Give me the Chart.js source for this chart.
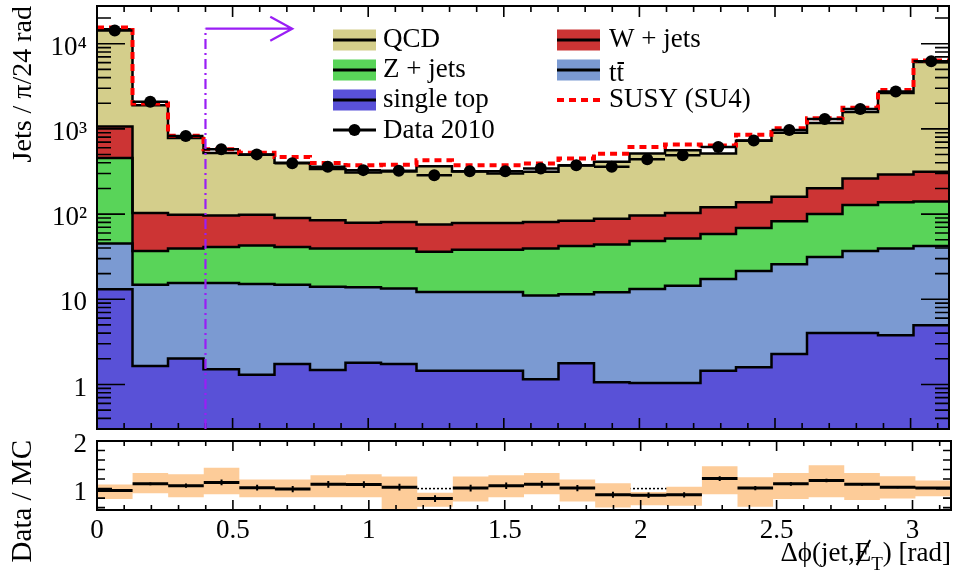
<!DOCTYPE html>
<html lang="en">
<head>
<meta charset="UTF-8">
<title>Jets vs delta phi (jet, MET)</title>
<script src="https://cdn.jsdelivr.net/npm/chart.js"></script>
<style>
  html, body { margin: 0; padding: 0; background: #fff; }
  canvas { position: absolute; left: 0; }
</style>
</head>
<body>
<canvas id="main" width="955" height="436" style="top:0"></canvas>
<canvas id="ratio" width="955" height="142" style="top:432px"></canvas>
<script>
// 24 bins of pi/24 in delta phi
const nBins = 24;
const binEdges = Array.from({length: nBins + 1}, (_, i) => i * Math.PI / nBins);
const binCenters = binEdges.slice(0, nBins).map((e, i) => (e + binEdges[i + 1]) / 2);

// MC components (jets per bin), bottom of the stack first
const singleTop = [13.1, 1.65, 2.02, 1.51, 1.30, 1.74, 1.48, 1.80, 1.74, 1.45, 1.45, 1.45,
                   1.15, 1.77, 1.06, 1.04, 1.04, 1.45, 1.59, 2.28, 4.03, 4.03, 3.79, 4.94];
const ttbar     = [32.1, 13.2, 13.5, 14.0, 13.8, 13.1, 12.5, 12.0, 11.6, 10.7, 10.7, 10.7,
                   9.9, 9.7, 11.0, 12.2, 13.4, 15.8, 19.9, 23.4, 27.4, 32.8, 35.7, 37.2];
const zJets     = [411, 22.0, 24.0, 25.5, 27.7, 26.2, 25.5, 25.7, 26.2, 24.0, 26.0, 26.0,
                   28.5, 30.6, 31.9, 34.9, 37.2, 41.3, 47.2, 56.5, 68.6, 91.2, 98.5, 97.9];
const wJets     = [608, 66.2, 58.5, 55.5, 55.2, 48.8, 44.9, 39.7, 41.2, 39.1, 40.5, 40.5,
                   41.2, 41.5, 44.2, 48.4, 51.4, 61.5, 69.3, 77.8, 101, 134, 154, 173];
const qcd       = [13736, 1797, 681, 424, 399, 310, 254, 229, 235, 289, 237, 221,
                   233, 288, 322, 416, 457, 395, 590, 740, 969, 1318, 2338, 5787];
// SM + SU4 signal (red dotted line)
const mcPlusSU4 = [15480, 1990, 829, 575, 526, 469, 399, 375, 380, 428, 375, 375,
                   392, 448, 512, 612, 657, 640, 851, 1019, 1335, 1765, 2866, 6340];
const data2010  = [14280, 2080, 823, 575, 502, 395, 359, 328, 322, 286, 319, 318,
                   343, 375, 359, 440, 489, 612, 731, 973, 1307, 1709, 2742, 6235];

// ratio panel
const ratio     = [0.96, 1.10, 1.06, 1.13, 1.02, 0.99, 1.09, 1.085, 1.03, 0.79, 1.01, 1.06,
                   1.09, 1.01, 0.87, 0.86, 0.87, 1.21, 1.01, 1.10, 1.17, 1.09, 1.03, 1.01];
const ratioErr  = [0.012, 0.03, 0.045, 0.06, 0.06, 0.065, 0.07, 0.07, 0.07, 0.07, 0.07, 0.07,
                   0.07, 0.065, 0.065, 0.06, 0.055, 0.05, 0.045, 0.04, 0.035, 0.03, 0.025, 0.015];
const bandLow   = [0.78, 0.90, 0.82, 0.88, 0.82, 0.82, 0.82, 0.82, 0.50, 0.62, 0.73, 0.82,
                   0.88, 0.73, 0.60, 0.65, 0.64, 0.88, 0.62, 0.78, 0.82, 0.76, 0.79, 0.84];
const bandHigh  = [1.085, 1.33, 1.30, 1.44, 1.19, 1.19, 1.28, 1.30, 1.255, 0.915, 1.255, 1.28,
                   1.33, 1.19, 1.11, 0.93, 1.04, 1.47, 1.24, 1.33, 1.49, 1.33, 1.26, 1.17];

// axis ticks
const yTickValues = [1, 10, 100, 1000, 10000];
const yTickLabels = ['1', '10', '10\u00B2', '10\u00B3', '10\u2074'];
const xTickValues = [0, 0.5, 1, 1.5, 2, 2.5, 3];
const ratioTickValues = [1, 2];

// cut line at 0.4 with arrow
const cutValue = 0.4, arrowEnd = 0.72, arrowLevel = 15000;

const colors = ['#5951D7', '#7B9AD2', '#59D459', '#CC3434', '#D4CE8B'];
const SERIF = '"Liberation Serif", "DejaVu Serif", serif';
Chart.defaults.font.family = SERIF;
Chart.defaults.color = '#000';

function steps(vals) {
  const pts = vals.map((v, i) => ({x: binEdges[i], y: v}));
  pts.push({x: binEdges[nBins], y: vals[nBins - 1]});
  return pts;
}

// cumulative stack
const layers = [singleTop, ttbar, zJets, wJets, qcd];
const cum = [];
let run = new Array(nBins).fill(0);
layers.forEach(l => { run = run.map((s, i) => s + l[i]); cum.push(run); });

// inward ticks and frame, ROOT style
function frameTicks(opts) {
  return {
    id: 'frameTicks',
    afterDatasetsDraw(chart) {
      const {ctx, chartArea: a, scales: {x, y}} = chart;
      ctx.save();
      ctx.strokeStyle = '#000';
      ctx.lineWidth = 1.6;
      ctx.beginPath();
      for (let i = 0; i <= 31; i++) {
        const v = i / 10;
        const len = (i % 5 === 0) ? opts.xMaj : opts.xMin;
        const px = x.getPixelForValue(v);
        ctx.moveTo(px, a.bottom); ctx.lineTo(px, a.bottom - len);
        ctx.moveTo(px, a.top); ctx.lineTo(px, a.top + len);
      }
      opts.yTicks.forEach(([v, major]) => {
        const py = y.getPixelForValue(v);
        if (py < a.top - 0.5 || py > a.bottom + 0.5) return;
        const len = major ? opts.yMaj : opts.yMin;
        ctx.moveTo(a.left, py); ctx.lineTo(a.left + len, py);
        ctx.moveTo(a.right, py); ctx.lineTo(a.right - len, py);
      });
      ctx.stroke();
      ctx.lineWidth = 2;
      ctx.strokeRect(a.left, a.top, a.right - a.left, a.bottom - a.top);
      ctx.restore();
    }
  };
}

const logTicks = [];
[0.1, 1, 10, 100, 1000, 10000].forEach(d => {
  for (let m = 1; m <= 9; m++) logTicks.push([m * d, m === 1]);
});
const ratioTicks = [];
for (let i = 3; i <= 10; i++) ratioTicks.push([i / 5, i === 5 || i === 10]);

// data error bars (bin width) drawn through the library scales
const dataBars = {
  id: 'dataBars',
  afterDatasetsDraw(chart) {
    const {ctx, scales: {x, y}} = chart;
    ctx.save();
    ctx.strokeStyle = '#000';
    ctx.lineWidth = 2.5;
    ctx.beginPath();
    data2010.forEach((v, i) => {
      const py = y.getPixelForValue(v);
      ctx.moveTo(x.getPixelForValue(binEdges[i]), py);
      ctx.lineTo(x.getPixelForValue(binEdges[i + 1]), py);
    });
    ctx.stroke();

    // cut line and arrow
    const px = x.getPixelForValue(cutValue);
    const pe = x.getPixelForValue(arrowEnd);
    const pl = y.getPixelForValue(arrowLevel);
    ctx.strokeStyle = '#9A1EF5';
    ctx.lineWidth = 2.2;
    ctx.setLineDash([10, 4, 2, 4]);
    ctx.beginPath();
    ctx.moveTo(px, chart.chartArea.bottom);
    ctx.lineTo(px, pl);
    ctx.stroke();
    ctx.setLineDash([]);
    ctx.beginPath();
    ctx.moveTo(px, pl); ctx.lineTo(pe, pl);
    ctx.moveTo(pe - 22, pl - 12); ctx.lineTo(pe, pl); ctx.lineTo(pe - 22, pl + 12);
    ctx.stroke();
    ctx.restore();
  }
};

const legendTitle = {
  id: 'legendTitle',
  afterDraw(chart) {
    const {ctx} = chart;
    ctx.save();
    ctx.font = '27px ' + SERIF;
    ctx.fillStyle = '#000';
    ctx.textAlign = 'left';
    ctx.textBaseline = 'alphabetic';
    const box = (x0, yc, col) => {
      ctx.fillStyle = col;
      ctx.fillRect(x0, yc - 10.5, 43, 21);
      ctx.strokeStyle = '#000';
      ctx.lineWidth = 3;
      ctx.beginPath(); ctx.moveTo(x0, yc); ctx.lineTo(x0 + 43, yc); ctx.stroke();
      ctx.fillStyle = '#000';
    };
    box(333, 40, colors[4]); ctx.fillText('QCD', 383, 47);
    box(333, 70, colors[2]); ctx.fillText('Z + jets', 383, 77);
    box(333, 100, colors[0]); ctx.fillText('single top', 383, 107);
    ctx.lineWidth = 3;
    ctx.beginPath(); ctx.moveTo(333, 130); ctx.lineTo(376, 130); ctx.stroke();
    ctx.beginPath(); ctx.arc(354.5, 130, 6, 0, Math.PI * 2); ctx.fill();
    ctx.fillText('Data 2010', 383, 138);

    box(557, 40, colors[3]); ctx.fillText('W + jets', 609, 47);
    box(557, 70, colors[1]);
    ctx.fillText('tt', 609, 81);
    const wt = ctx.measureText('t').width;
    ctx.lineWidth = 2;
    ctx.beginPath(); ctx.moveTo(609 + wt + 1, 63); ctx.lineTo(609 + 2 * wt, 63); ctx.stroke();
    ctx.strokeStyle = '#FF0000';
    ctx.lineWidth = 4;
    ctx.setLineDash([7, 5]);
    ctx.beginPath(); ctx.moveTo(557, 100); ctx.lineTo(600, 100); ctx.stroke();
    ctx.setLineDash([]);
    ctx.fillText('SUSY (SU4)', 609, 107);

    // y axis title
    ctx.font = '28px ' + SERIF;
    ctx.translate(31, 6);
    ctx.rotate(-Math.PI / 2);
    ctx.textAlign = 'right';
    ctx.fillText('Jets / \u03C0/24 rad', 0, 0);
    ctx.restore();
  }
};

const mcSets = [];
for (let k = 4; k >= 0; k--) {
  mcSets.push({
    data: steps(cum[k]),
    stepped: true,
    fill: k === 0 ? 'start' : '+1',
    backgroundColor: colors[k],
    borderColor: '#000',
    borderWidth: 2.5,
    pointRadius: 0
  });
}

new Chart(document.getElementById('main'), {
  type: 'line',
  data: {
    datasets: [
      {
        data: binCenters.map((c, i) => ({x: c, y: data2010[i]})),
        showLine: false,
        pointRadius: 6,
        pointBackgroundColor: '#000',
        pointBorderWidth: 0
      },
      {
        data: steps(mcPlusSU4),
        stepped: true,
        fill: false,
        borderColor: '#FF0000',
        borderWidth: 4,
        borderDash: [7, 5],
        pointRadius: 0
      },
      ...mcSets
    ]
  },
  options: {
    responsive: false,
    animation: false,
    layout: {padding: {left: 0, right: 4, top: 6, bottom: 7}},
    plugins: {
      legend: {display: false},
      tooltip: {enabled: false},
      filler: {drawTime: 'beforeDatasetsDraw'}
    },
    scales: {
      x: {type: 'linear', min: 0, max: Math.PI, display: false},
      y: {
        type: 'logarithmic',
        min: 0.334,
        max: 27700,
        grid: {display: false, drawTicks: false},
        border: {display: false},
        ticks: {
          font: {size: 27},
          color: '#000',
          padding: 10,
          labelOffset: 4,
          callback: v => { const i = yTickValues.indexOf(v); return i < 0 ? '' : yTickLabels[i]; }
        },
        afterBuildTicks: s => { s.ticks = yTickValues.map(v => ({value: v})); },
        afterFit: s => { s.width = 97; s.paddingTop = 0; s.paddingBottom = 0; }
      }
    }
  },
  plugins: [frameTicks({xMaj: 11, xMin: 6, yMaj: 28, yMin: 14, yTicks: logTicks}), dataBars, legendTitle]
});

// ratio panel
const ratioBars = {
  id: 'ratioBars',
  afterDatasetsDraw(chart) {
    const {ctx, scales: {x, y}} = chart;
    ctx.save();
    ctx.strokeStyle = '#000';
    ctx.lineWidth = 3;
    ctx.beginPath();
    ratio.forEach((r, i) => {
      const py = y.getPixelForValue(r);
      ctx.moveTo(x.getPixelForValue(binEdges[i]), py);
      ctx.lineTo(x.getPixelForValue(binEdges[i + 1]), py);
    });
    ctx.stroke();
    ctx.lineWidth = 2;
    ctx.beginPath();
    ratio.forEach((r, i) => {
      const px = x.getPixelForValue(binCenters[i]);
      ctx.moveTo(px, y.getPixelForValue(r - ratioErr[i]));
      ctx.lineTo(px, y.getPixelForValue(r + ratioErr[i]));
    });
    ctx.stroke();
    ctx.restore();
  },
  afterDraw(chart) {
    const {ctx} = chart;
    ctx.save();
    ctx.fillStyle = '#000';
    ctx.textBaseline = 'alphabetic';
    // x axis title: delta phi(jet, MET) [rad]
    const big = '27px ' + SERIF, small = '19px ' + SERIF;
    ctx.font = big;
    const p1 = '\u0394\u03D5(jet,', p3 = ') [rad]';
    const w1 = ctx.measureText(p1).width, wE = ctx.measureText('E').width, w3 = ctx.measureText(p3).width;
    ctx.font = small;
    const wT = ctx.measureText('T').width;
    const base = 129;
    let xs = 951 - (w1 + wE + wT + w3);
    ctx.font = big;
    ctx.fillText(p1, xs, base); xs += w1;
    ctx.fillText('E', xs, base);
    ctx.strokeStyle = '#000';
    ctx.lineWidth = 2;
    ctx.beginPath(); ctx.moveTo(xs + 2, base + 4); ctx.lineTo(xs + wE - 1, base - 21); ctx.stroke();
    xs += wE;
    ctx.font = small;
    ctx.fillText('T', xs, base + 9); xs += wT;
    ctx.font = big;
    ctx.fillText(p3, xs, base);
    // y axis title
    ctx.font = '29px ' + SERIF;
    ctx.translate(31, 8);
    ctx.rotate(-Math.PI / 2);
    ctx.textAlign = 'right';
    ctx.fillText('Data / MC', 0, 0);
    ctx.restore();
  }
};

new Chart(document.getElementById('ratio'), {
  type: 'line',
  data: {
    datasets: [
      {
        data: steps(bandHigh),
        stepped: true,
        fill: '+1',
        backgroundColor: '#FDCC99',
        borderColor: 'rgba(0,0,0,0)',
        borderWidth: 0,
        pointRadius: 0
      },
      {
        data: steps(bandLow),
        stepped: true,
        fill: false,
        borderColor: 'rgba(0,0,0,0)',
        borderWidth: 0,
        pointRadius: 0
      },
      {
        data: [{x: 0, y: 1}, {x: Math.PI, y: 1}],
        fill: false,
        borderColor: '#000',
        borderWidth: 1.5,
        borderDash: [2, 2],
        pointRadius: 0
      }
    ]
  },
  options: {
    responsive: false,
    animation: false,
    layout: {padding: {left: 0, right: 4, top: 9, bottom: 0}},
    plugins: {legend: {display: false}, tooltip: {enabled: false}},
    scales: {
      x: {
        type: 'linear', min: 0, max: Math.PI,
        grid: {display: false, drawTicks: false},
        border: {display: false},
        ticks: {font: {size: 27}, color: '#000', padding: 5, maxRotation: 0, autoSkip: false,
                callback: v => String(v)},
        afterBuildTicks: s => { s.ticks = xTickValues.map(v => ({value: v})); },
        afterFit: s => { s.height = 64; s.paddingLeft = 0; s.paddingRight = 0; }
      },
      y: {
        type: 'linear', min: 0.55, max: 2.0,
        grid: {display: false, drawTicks: false},
        border: {display: false},
        ticks: {font: {size: 27}, color: '#000', padding: 10, labelOffset: 4},
        afterBuildTicks: s => { s.ticks = ratioTickValues.map(v => ({value: v})); },
        afterFit: s => { s.width = 97; s.paddingTop = 0; s.paddingBottom = 0; }
      }
    }
  },
  plugins: [frameTicks({xMaj: 10, xMin: 5, yMaj: 15, yMin: 8, yTicks: ratioTicks}), ratioBars]
});
</script>
</body>
</html>
